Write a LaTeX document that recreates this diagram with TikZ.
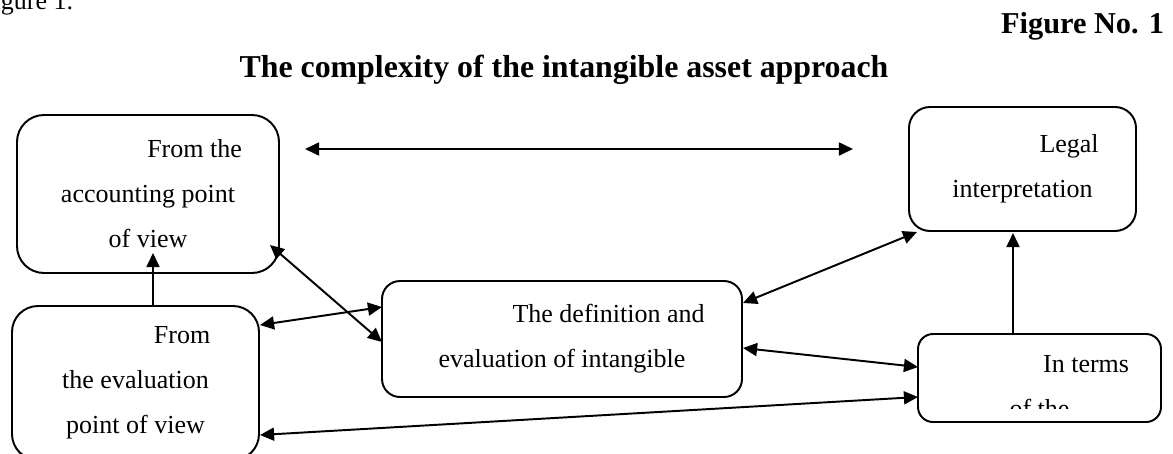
\documentclass[tikz,border=0pt]{standalone}
\usepackage{fontspec}
\setmainfont{Liberation Serif}
\usetikzlibrary{calc}
\usetikzlibrary{arrows.meta}

\newlength{\pxu}
\setlength{\pxu}{0.01622cm}
\newcommand{\firstind}{\hspace*{43pt}}

\begin{document}
\begin{tikzpicture}[x=0.01622cm, y=-0.01622cm, >={Triangle[length=6.5pt,width=6pt]}, line width=0.9pt, align=center,
    box/.style={draw, rectangle, inner sep=0pt, outer sep=0pt, font=\fontsize{12}{20.8}\selectfont},
    head/.style={inner sep=0pt, font=\fontsize{14}{16}\selectfont\bfseries}]
  \useasboundingbox (0,0) rectangle (1173,453);

  \node[anchor=base west, inner sep=0pt, font=\fontsize{12}{14}\selectfont] (fig) at (-21.7,9) {Figure 1.};
  \node[head, anchor=base east] (figno) at (1165,33) {Figure No. 1};
  \node[head, anchor=base, font=\fontsize{14.7}{17}\selectfont\bfseries] (title) at (564,77) {The complexity of the intangible asset approach};

  \node[box, minimum width=262\pxu, minimum height=158\pxu, rounded corners=27\pxu] (acc)   at (148,194)    {\firstind From the\\accounting point\\of view};
  \node[box, minimum width=247\pxu, minimum height=154\pxu, rounded corners=26\pxu] (eval)  at (135.5,383)  {\firstind From\\the evaluation\\point of view};
  \node[box, minimum width=360\pxu, minimum height=116\pxu, rounded corners=18\pxu] (defn)  at (562,339)    {\firstind The definition and\\evaluation of intangible};
  \node[box, minimum width=227\pxu, minimum height=124\pxu, rounded corners=21\pxu] (legal) at (1022.5,169) {\firstind Legal\\interpretation};
  \node[box, minimum width=243\pxu, minimum height=88\pxu,  rounded corners=15\pxu] (terms) at (1039.5,378) {};
  \begin{scope}
    \clip (terms.north west) rectangle ($(terms.north east)+(0,74)$);
    \node[box, draw=none] (termstxt) at (1039.5,386.7) {\firstind In terms\\of the};
  \end{scope}

  \coordinate (lt) at (305,149);
  \coordinate (rt) at (853,149);
  \draw[<->] (lt) -- (rt);

  \path[<->]
        ($(acc.south east)+(-9,-28)$)  edge ($(defn.west)+(0,3)$)
        ($(eval.north east)+(1,19)$)   edge ($(defn.west)+(0,-32)$)
        ($(defn.east)+(1,-36)$)        edge ($(legal.south west)+(8,1)$)
        ($(defn.east)+(1,9)$)          edge ($(terms.west)+(0,-11)$)
        ($(eval.east)+(1,52)$)         edge ($(terms.west)+(0,19)$)
        ;
  \path[->]
        ($(terms.north)+(-26.5,0)$)    edge ($(legal.south)+(-9.5,2)$)
        ($(eval.north)+(17.5,0)$)      edge ($(acc.south)+(5,-20)$)
        ;
\end{tikzpicture}
\end{document}
